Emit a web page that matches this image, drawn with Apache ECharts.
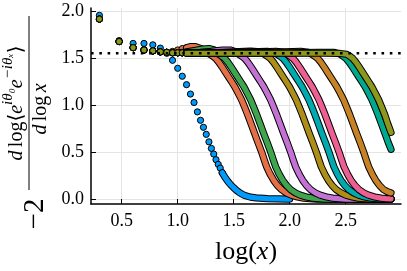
<!DOCTYPE html>
<html><head><meta charset="utf-8">
<script src="https://cdn.jsdelivr.net/npm/echarts@6/dist/echarts.min.js"></script>
<style>html,body{margin:0;padding:0;background:#fff}#c{width:407px;height:271px}</style>
</head><body><div id="c"></div>
<script>
// ---- data ----
const colors = ['#009AFA','#E36F47','#3EA44E','#C371D2','#AC8E18','#00AAAE','#ED5E93','#C68225','#00A98D','#8E971D'];
const xTicks = [0.5, 1.0, 1.5, 2.0, 2.5];
const yTicks = [0.0, 0.5, 1.0, 1.5, 2.0];
const xMin = 0.226, xMax = 2.994, yMin = -0.053, yMax = 2.038;
const refLevel = 1.555;
// log10(n), n = 2..25
const xSparse = [0.301,0.477,0.602,0.699,0.778,0.845,0.903,0.954,1.000,1.041,1.079,1.114,1.146,1.176,1.204,1.230,1.255,1.279,1.301,1.322,1.342,1.362,1.380,1.398];

const s1Sparse = [1.96,1.69,1.66,1.66,1.645,1.61,1.555,1.48,1.395,1.31,1.22,1.12,1.03,0.93,0.84,0.765,0.69,0.61,0.54,0.48,0.42,0.37,0.33,0.28];
const s1Band = [[1.398,0.28],[1.42,0.235],[1.45,0.185],[1.475,0.15],[1.5,0.12],[1.525,0.093],[1.55,0.07],[1.575,0.052],[1.6,0.037],[1.65,0.02],[1.7,0.012],[1.8,0.005],[1.9,0.002],[2.0,0.0]];

const s2Sparse = [1.92,1.68,1.615,1.59,1.58,1.57,1.565,1.575,1.59,1.605,1.615];
const s2Band = [[1.079,1.615],[1.11,1.625],[1.16,1.625],[1.21,1.605],[1.25,1.575],[1.285,1.545],[1.313,1.525],[1.339,1.50],[1.37,1.455],[1.401,1.40],[1.428,1.35],[1.455,1.30],[1.482,1.25],[1.5085,1.20],[1.54,1.13],[1.571,1.057],[1.598,0.98],[1.625,0.90],[1.656,0.80],[1.687,0.70],[1.718,0.60],[1.75,0.50],[1.772,0.42],[1.794,0.345],[1.825,0.265],[1.857,0.20],[1.89,0.145],[1.928,0.10],[1.97,0.065],[2.017,0.04],[2.07,0.022],[2.125,0.01],[2.18,0.004],[2.241,0.0],[2.905,0.0]];

const s3Sparse = [1.92,1.68,1.615,1.59,1.58,1.57,1.565,1.56,1.56,1.565,1.57];
const s3Band = [[1.079,1.57],[1.15,1.585],[1.22,1.60],[1.28,1.605],[1.33,1.59],[1.366,1.545],[1.393,1.525],[1.42,1.50],[1.451,1.455],[1.482,1.40],[1.509,1.35],[1.536,1.30],[1.563,1.25],[1.59,1.20],[1.621,1.13],[1.652,1.057],[1.679,0.98],[1.706,0.90],[1.737,0.80],[1.768,0.70],[1.8,0.60],[1.831,0.50],[1.853,0.42],[1.875,0.345],[1.906,0.265],[1.938,0.20],[1.972,0.145],[2.009,0.10],[2.052,0.065],[2.098,0.04],[2.15,0.022],[2.206,0.01],[2.26,0.004],[2.322,0.0],[2.905,0.0]];

const s4Sparse = [1.92,1.68,1.615,1.59,1.58,1.57,1.565,1.56,1.56,1.56,1.56];
const s4Band = [[1.079,1.56],[1.2,1.565],[1.3,1.575],[1.4,1.59],[1.47,1.59],[1.51,1.575],[1.544,1.545],[1.571,1.525],[1.598,1.50],[1.629,1.455],[1.66,1.40],[1.687,1.35],[1.714,1.30],[1.741,1.25],[1.7675,1.20],[1.799,1.13],[1.830,1.057],[1.857,0.98],[1.884,0.90],[1.915,0.80],[1.946,0.70],[1.978,0.60],[2.009,0.50],[2.031,0.42],[2.053,0.345],[2.085,0.265],[2.116,0.20],[2.15,0.145],[2.187,0.10],[2.23,0.065],[2.276,0.04],[2.33,0.022],[2.384,0.01],[2.44,0.004],[2.50,0.0],[2.905,0.0]];

const s5Sparse = [1.92,1.68,1.615,1.59,1.58,1.57,1.565,1.56,1.56,1.56,1.56];
const s5Band = [[1.079,1.56],[1.3,1.56],[1.5,1.57],[1.65,1.578],[1.74,1.57],[1.773,1.545],[1.80,1.525],[1.827,1.50],[1.858,1.455],[1.889,1.40],[1.916,1.35],[1.943,1.30],[1.97,1.25],[1.9965,1.20],[2.028,1.13],[2.059,1.057],[2.086,0.98],[2.113,0.90],[2.144,0.80],[2.175,0.70],[2.207,0.60],[2.238,0.50],[2.26,0.42],[2.282,0.345],[2.314,0.265],[2.345,0.20],[2.379,0.145],[2.416,0.10],[2.46,0.065],[2.505,0.04],[2.56,0.022],[2.613,0.01],[2.67,0.004],[2.729,0.0],[2.905,0.0]];

const s6Sparse = [1.92,1.68,1.615,1.59,1.58,1.57,1.565,1.56,1.56,1.56,1.56];
const s6Band = [[1.079,1.56],[1.4,1.56],[1.65,1.57],[1.8,1.575],[1.86,1.565],[1.886,1.545],[1.913,1.525],[1.94,1.50],[1.971,1.455],[2.002,1.40],[2.029,1.35],[2.056,1.30],[2.083,1.25],[2.1095,1.20],[2.141,1.13],[2.172,1.057],[2.199,0.98],[2.226,0.90],[2.257,0.80],[2.288,0.70],[2.32,0.60],[2.351,0.50],[2.373,0.42],[2.395,0.345],[2.427,0.265],[2.458,0.20],[2.492,0.145],[2.529,0.10],[2.572,0.065],[2.618,0.04],[2.67,0.022],[2.726,0.01],[2.78,0.004],[2.842,0.0],[2.905,0.0]];

const s7Sparse = [1.92,1.68,1.615,1.59,1.58,1.57,1.565,1.56,1.56,1.56,1.56];
const s7Band = [[1.079,1.56],[1.5,1.56],[1.75,1.57],[1.88,1.575],[1.95,1.565],[1.976,1.545],[2.003,1.525],[2.03,1.50],[2.061,1.455],[2.092,1.40],[2.119,1.35],[2.146,1.30],[2.173,1.25],[2.1995,1.20],[2.231,1.13],[2.262,1.057],[2.289,0.98],[2.316,0.90],[2.347,0.80],[2.378,0.70],[2.41,0.60],[2.441,0.50],[2.463,0.42],[2.485,0.345],[2.517,0.265],[2.548,0.20],[2.582,0.145],[2.619,0.10],[2.662,0.065],[2.708,0.04],[2.76,0.022],[2.816,0.01],[2.86,0.005],[2.905,0.002]];

const s8Sparse = [1.92,1.68,1.615,1.59,1.58,1.57,1.565,1.56,1.56,1.56,1.56];
const s8Band = [[1.079,1.56],[1.7,1.56],[1.95,1.57],[2.1,1.575],[2.17,1.565],[2.196,1.545],[2.223,1.525],[2.25,1.50],[2.281,1.455],[2.312,1.40],[2.339,1.35],[2.366,1.30],[2.393,1.25],[2.4195,1.20],[2.451,1.13],[2.482,1.057],[2.509,0.98],[2.536,0.90],[2.567,0.80],[2.598,0.70],[2.63,0.60],[2.661,0.50],[2.683,0.42],[2.705,0.345],[2.737,0.265],[2.768,0.20],[2.802,0.145],[2.839,0.10],[2.87,0.08],[2.905,0.065]];

const s9Sparse = [1.92,1.68,1.615,1.59,1.58,1.57,1.565,1.56,1.56,1.56,1.56];
const s9Band = [[1.079,1.56],[2.0,1.56],[2.25,1.565],[2.4,1.565],[2.449,1.545],[2.476,1.525],[2.503,1.50],[2.534,1.455],[2.565,1.40],[2.592,1.35],[2.619,1.30],[2.646,1.25],[2.6725,1.20],[2.704,1.13],[2.735,1.057],[2.762,0.98],[2.789,0.90],[2.82,0.80],[2.851,0.70],[2.878,0.61],[2.905,0.53]];

const s10Sparse = [1.92,1.68,1.615,1.59,1.58,1.57,1.565,1.56,1.56,1.56,1.555];
const s10Band = [[1.079,1.555],[2.3,1.555],[2.45,1.553],[2.509,1.545],[2.536,1.525],[2.563,1.50],[2.594,1.455],[2.625,1.40],[2.652,1.35],[2.679,1.30],[2.706,1.25],[2.7325,1.20],[2.764,1.13],[2.795,1.057],[2.822,0.98],[2.849,0.90],[2.877,0.80],[2.905,0.71]];

const sparseSets = [s1Sparse,s2Sparse,s3Sparse,s4Sparse,s5Sparse,s6Sparse,s7Sparse,s8Sparse,s9Sparse,s10Sparse];
const bandSets = [s1Band,s2Band,s3Band,s4Band,s5Band,s6Band,s7Band,s8Band,s9Band,s10Band];

// ---- build chart ----
const FONT = '"Liberation Serif","DejaVu Serif",serif';
const series = [];
sparseSets.forEach((sp, i) => {
  const col = colors[i];
  series.push({
    type: 'scatter', data: sp.map((v, k) => [xSparse[k], v]),
    symbol: 'circle', symbolSize: 6.2,
    itemStyle: { color: col, borderColor: '#000', borderWidth: 1, opacity: 1 },
    silent: true, animation: false
  });
  series.push({
    type: 'line', data: bandSets[i], showSymbol: false, smooth: false,
    lineStyle: { color: '#000', width: 7.2, cap: 'round', join: 'round' },
    silent: true, animation: false
  });
  series.push({
    type: 'line', data: bandSets[i], showSymbol: false, smooth: false,
    lineStyle: { color: col, width: 5.2, cap: 'round', join: 'round' },
    silent: true, animation: false
  });
});
series.push({
  type: 'line', data: [[xMin, refLevel], [xMax, refLevel]], showSymbol: false, z: 5,
  lineStyle: { color: '#000', width: 2.5, type: [2.6, 5.7], cap: 'butt' },
  silent: true, animation: false
});

const chart = echarts.init(document.getElementById('c'), null, { renderer: 'canvas' });
chart.setOption({
  animation: false,
  backgroundColor: '#fff',
  grid: { left: 91, right: 6, top: 8, bottom: 67, containLabel: false },
  xAxis: {
    type: 'value', min: xMin, max: xMax,
    name: '{a|log(}{b|x}{a|)}', nameLocation: 'middle', nameGap: 35,
    nameTextStyle: { rich: {
      a: { fontFamily: FONT, fontSize: 26, color: '#000' },
      b: { fontFamily: FONT, fontSize: 26, fontStyle: 'italic', color: '#000' } } },
    axisLine: { show: true, onZero: false, lineStyle: { color: '#000', width: 1.5 } },
    axisTick: { show: true, inside: true, length: 5, customValues: xTicks, lineStyle: { color: '#000', width: 1 } },
    axisLabel: { customValues: xTicks, formatter: v => v.toFixed(1), fontFamily: FONT, fontSize: 18, color: '#000', margin: 8 },
    splitLine: { show: true, lineStyle: { color: '#e4e4e4', width: 1 } }
  },
  yAxis: {
    type: 'value', min: yMin, max: yMax,
    axisLine: { show: true, onZero: false, lineStyle: { color: '#000', width: 1.5 } },
    axisTick: { show: true, inside: true, length: 5, customValues: yTicks, lineStyle: { color: '#000', width: 1 } },
    axisLabel: { customValues: yTicks, formatter: v => v.toFixed(1), fontFamily: FONT, fontSize: 18, color: '#000', margin: 7 },
    splitLine: { show: true, lineStyle: { color: '#e4e4e4', width: 1 } }
  },
  graphic: [{
    type: 'group', x: 29, y: 103, rotation: Math.PI / 2,
    children: [
      { type: 'line', shape: { x1: -87, y1: 0, x2: 87, y2: 0 }, style: { stroke: '#000', lineWidth: 1 } },
      { type: 'text', style: { text: '−2', x: -111, y: 6, align: 'center', verticalAlign: 'middle',
          font: '29px ' + FONT, fill: '#000' } },
      { type: 'text', style: {
          text: '{i|d} {r|log⟨}{i|e}{s|iθ₀}{i|e}{s|−iθₓ}{r|⟩}',
          x: 0, y: -2, align: 'center', verticalAlign: 'bottom',
          rich: {
            i: { font: 'italic 20px ' + FONT, fill: '#000', lineHeight: 26, verticalAlign: 'bottom' },
            r: { font: '20px ' + FONT, fill: '#000', lineHeight: 26, verticalAlign: 'bottom' },
            s: { font: 'italic 15px ' + FONT, fill: '#000', lineHeight: 26, verticalAlign: 'top' }
          } } },
      { type: 'text', style: {
          text: '{i|d} {r|log} {i|x}',
          x: -6, y: 2, align: 'center', verticalAlign: 'top',
          rich: {
            i: { font: 'italic 20px ' + FONT, fill: '#000' },
            r: { font: '20px ' + FONT, fill: '#000' }
          } } }
    ]
  }],
  series: series
});
</script>
</body></html>
